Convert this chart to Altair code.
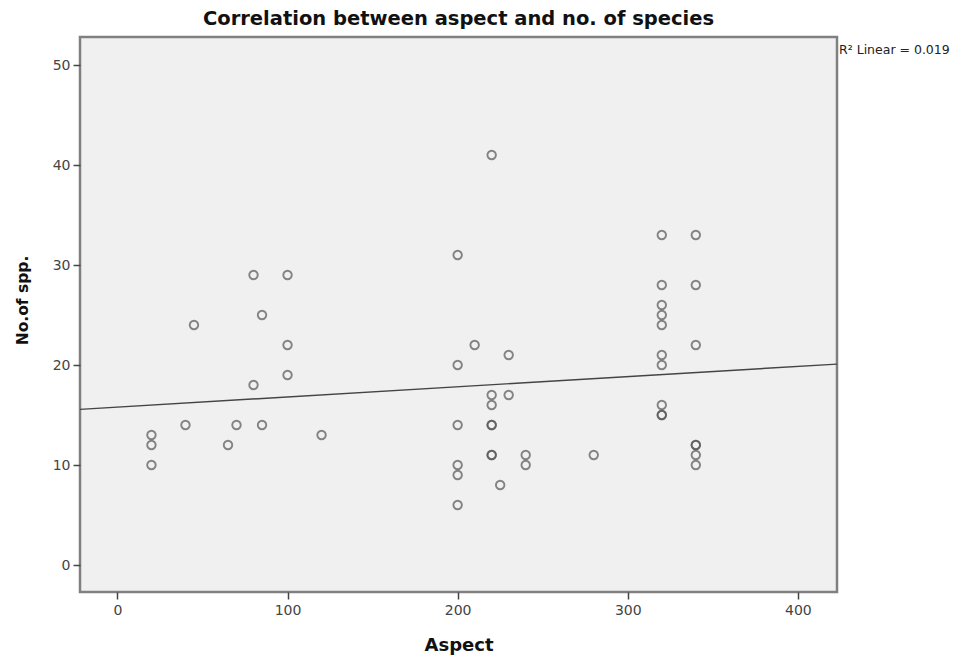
import altair as alt
import pandas as pd

# Aspect (degrees) and number of species
aspect = [20, 20, 20, 40, 45, 65, 70, 80, 80, 85, 85, 100, 100, 100, 120,
          200, 200, 200, 200, 200, 200, 210, 220, 220, 220, 220, 220, 220, 220,
          225, 230, 230, 240, 240, 280,
          320, 320, 320, 320, 320, 320, 320, 320, 320, 320,
          340, 340, 340, 340, 340, 340, 340]
species = [13, 12, 10, 14, 24, 12, 14, 29, 18, 25, 14, 29, 22, 19, 13,
           31, 20, 14, 10, 9, 6, 22, 41, 17, 16, 14, 14, 11, 11,
           8, 21, 17, 11, 10, 11,
           33, 28, 26, 25, 24, 21, 20, 16, 15, 15,
           33, 28, 22, 12, 12, 11, 10]

x_ticks = [0, 100, 200, 300, 400]
y_ticks = [0, 10, 20, 30, 40, 50]
x_domain = [-22, 423]
y_domain = [-2.7, 52.8]
r2_label = ["R\u00b2 Linear = 0.019"]

df = pd.DataFrame({"aspect": aspect, "spp": species})

x_enc = alt.X("aspect:Q", title="Aspect",
              scale=alt.Scale(domain=x_domain, nice=False, zero=False),
              axis=alt.Axis(values=x_ticks, grid=False, domain=False,
                            tickSize=7, tickColor="#444", tickWidth=1.5,
                            labelFont="DejaVu Sans", labelFontSize=14,
                            labelColor="#444", labelPadding=4,
                            titleFont="DejaVu Sans", titleFontSize=18,
                            titleFontWeight="bold", titleColor="#111",
                            titleY=53, titleBaseline="middle"))
y_enc = alt.Y("spp:Q", title="No.of spp.",
              scale=alt.Scale(domain=y_domain, nice=False, zero=False),
              axis=alt.Axis(values=y_ticks, grid=False, domain=False,
                            tickSize=7, tickColor="#444", tickWidth=1.5,
                            labelFont="DejaVu Sans", labelFontSize=14,
                            labelColor="#444", labelPadding=3,
                            titleFont="DejaVu Sans", titleFontSize=15.5,
                            titleFontWeight="bold", titleColor="#111",
                            titleX=-58, titleY=263, titleAlign="center",
                            titleBaseline="middle", titleAngle=270))

base = alt.Chart(df)

points = base.mark_point(shape="circle", filled=False, size=72,
                         stroke="#555", strokeWidth=1.9).encode(x=x_enc, y=y_enc)

line = base.transform_regression("aspect", "spp", extent=x_domain).mark_line(
    color="#444", strokeWidth=1.4, clip=True).encode(x="aspect:Q", y="spp:Q")

r2 = alt.Chart(pd.DataFrame({"label": r2_label})).mark_text(
    align="left", baseline="middle", font="DejaVu Sans", fontSize=12.5,
    color="#222").encode(x=alt.value(759), y=alt.value(13), text="label:N")

chart = alt.layer(points, line, r2).properties(
    width=757, height=555,
    background="white",
    title=alt.TitleParams("Correlation between aspect and no. of species",
                          font="DejaVu Sans", fontSize=19.5, fontWeight="bold",
                          color="#111", anchor="middle", offset=8),
    autosize=alt.AutoSizeParams(type="none"),
    padding={"left": 80, "top": 37, "right": 139, "bottom": 68},
).configure_view(fill="#f0f0f0", stroke="#808080", strokeWidth=2.5)

chart.save("out.html", embed_options={"renderer": "svg", "actions": False})
